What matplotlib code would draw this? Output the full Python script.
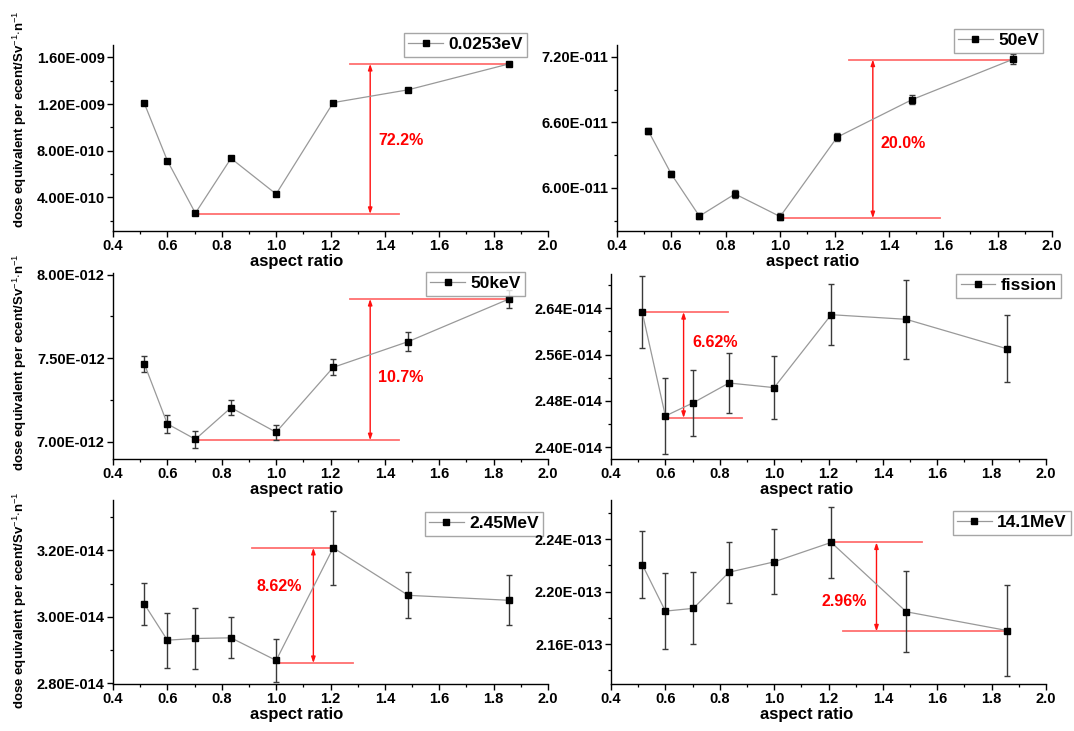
import matplotlib
matplotlib.use("Agg")
import matplotlib.pyplot as plt
from matplotlib.ticker import FuncFormatter, MultipleLocator

plt.rcParams["font.family"] = ["Liberation Sans", "DejaVu Sans"]
plt.rcParams["mathtext.fontset"] = "custom"
plt.rcParams["mathtext.rm"] = "Liberation Sans"
plt.rcParams["mathtext.bf"] = "Liberation Sans:bold"

# ---------------- data ----------------
ratio = [0.515, 0.6, 0.703, 0.834, 1.0, 1.21, 1.486, 1.857]

dose_0025eV = [1.208e-9, 0.715e-9, 0.265e-9, 0.735e-9, 0.429e-9, 1.213e-9, 1.323e-9, 1.545e-9]
err_0025eV = [0.0] * 8

dose_50eV = [6.523e-11, 6.126e-11, 5.742e-11, 5.945e-11, 5.738e-11, 6.465e-11, 6.809e-11, 7.178e-11]
err_50eV = [0.03e-11, 0.03e-11, 0.03e-11, 0.035e-11, 0.035e-11, 0.035e-11, 0.04e-11, 0.045e-11]

dose_50keV = [7.468e-12, 7.108e-12, 7.016e-12, 7.205e-12, 7.058e-12, 7.446e-12, 7.600e-12, 7.855e-12]
err_50keV = [0.048e-12, 0.056e-12, 0.052e-12, 0.046e-12, 0.044e-12, 0.048e-12, 0.056e-12, 0.056e-12]

dose_fission = [2.633e-14, 2.454e-14, 2.477e-14, 2.511e-14, 2.503e-14, 2.629e-14, 2.621e-14, 2.570e-14]
err_fission = [0.062e-14, 0.065e-14, 0.057e-14, 0.051e-14, 0.055e-14, 0.053e-14, 0.068e-14, 0.058e-14]

dose_245MeV = [3.039e-14, 2.930e-14, 2.935e-14, 2.937e-14, 2.869e-14, 3.208e-14, 3.065e-14, 3.050e-14]
err_245MeV = [0.064e-14, 0.083e-14, 0.093e-14, 0.062e-14, 0.065e-14, 0.112e-14, 0.069e-14, 0.075e-14]

dose_141MeV = [2.2206e-13, 2.1852e-13, 2.1873e-13, 2.2148e-13, 2.2227e-13, 2.2375e-13, 2.1847e-13, 2.1704e-13]
err_141MeV = [0.0257e-13, 0.0292e-13, 0.0273e-13, 0.0232e-13, 0.0248e-13, 0.0268e-13, 0.0308e-13, 0.0343e-13]

labels = ["0.0253eV", "50eV", "50keV", "fission", "2.45MeV", "14.1MeV"]
percents = ["72.2%", "20.0%", "10.7%", "6.62%", "8.62%", "2.96%"]

# ---------------- layout (pixels) ----------------
W, H = 1074, 731
fig = plt.figure(figsize=(W / 100, H / 100), dpi=100)
fig.patch.set_facecolor("white")

panels = [
    dict(x=dose_0025eV, e=err_0025eV, rect=(113, 548, 45, 231), ylim=(0.112e-9, 1.707e-9),
         major=0.4e-9, leg=(527, 33), xl=0.423,
         ann=(1.545e-9, 1.272, 1.857, 0.258e-9, 0.703, 1.452, 1.346, 1.375, 0.89e-9)),
    dict(x=dose_50eV, e=err_50eV, rect=(617, 1052, 45, 231), ylim=(5.606e-11, 7.308e-11),
         major=0.6e-11, leg=(1043, 29), xl=0.45,
         ann=(7.175e-11, 1.254, 1.85, 5.723e-11, 1.0, 1.5875, 1.341, 1.369, 6.406e-11)),
    dict(x=dose_50keV, e=err_50keV, rect=(113, 548, 273, 459), ylim=(6.898e-12, 8.01e-12),
         major=0.5e-12, leg=(525, 272), xl=0.423,
         ann=(7.855e-12, 1.272, 1.857, 7.01e-12, 0.703, 1.452, 1.346, 1.376, 7.386e-12)),
    dict(x=dose_fission, e=err_fission, rect=(611, 1046, 274, 459), ylim=(2.3797e-14, 2.6993e-14),
         major=0.08e-14, leg=(1061, 274), xl=0.45,
         ann=(2.6336e-14, 0.515, 0.832, 2.4506e-14, 0.6, 0.882, 0.667, 0.698, 2.581e-14)),
    dict(x=dose_245MeV, e=err_245MeV, rect=(113, 548, 500, 684), ylim=(2.798e-14, 3.352e-14),
         major=0.2e-14, leg=(543, 512), xl=0.423,
         ann=(3.208e-14, 0.912, 1.222, 2.861e-14, 1.0, 1.281, 1.137, 0.927, 3.093e-14)),
    dict(x=dose_141MeV, e=err_141MeV, rect=(611, 1046, 500, 684), ylim=(2.1297e-13, 2.2698e-13),
         major=0.04e-13, leg=(1071, 511), xl=0.45,
         ann=(2.2375e-13, 1.21, 1.543, 2.1697e-13, 1.255, 1.857, 1.3765, 1.174, 2.1926e-13)),
]


def sci_fmt(v, pos):
    if v == 0:
        return "0"
    mant, ex = f"{v:.2E}".split("E")
    ex = int(ex)
    return f"{mant}E{'-' if ex < 0 else '+'}{abs(ex):03d}"


LINE_RED = "#FF7070"
ARROW_RED = "#FF1010"

for i, p in enumerate(panels):
    l, r, t, b = p["rect"]
    ax = fig.add_axes([l / W, 1 - b / H, (r - l) / W, (b - t) / H])
    ax.errorbar(ratio, p["x"], yerr=p["e"], fmt="none", ecolor="#3a3a3a",
                elinewidth=1.0, capsize=2.5, capthick=1.0, zorder=3)
    ax.plot(ratio, p["x"], "-s", color="#999999", lw=0.9, mfc="black", mec="black",
            ms=4.5, label=labels[i], zorder=4)
    ax.set_xlim(0.4, 2.0)
    ax.set_ylim(*p["ylim"])
    ax.xaxis.set_major_locator(MultipleLocator(0.2))
    ax.xaxis.set_minor_locator(MultipleLocator(0.1))
    ax.yaxis.set_major_locator(MultipleLocator(p["major"]))
    ax.yaxis.set_minor_locator(MultipleLocator(p["major"] / 2))
    ax.yaxis.set_major_formatter(FuncFormatter(sci_fmt))
    ax.xaxis.set_major_formatter(FuncFormatter(lambda v, pos: f"{v:.1f}"))
    for s in ("top", "right"):
        ax.spines[s].set_visible(False)
    for s in ("left", "bottom"):
        ax.spines[s].set_linewidth(1.0)
    ax.tick_params(which="major", direction="out", length=4.5, width=1.0, pad=1.5,
                   labelsize=10.5)
    ax.tick_params(which="minor", direction="out", length=2.5, width=0.9)
    for lab in ax.get_xticklabels() + ax.get_yticklabels():
        lab.set_fontweight("bold")

    ax.set_xlabel("aspect ratio", fontsize=12, fontweight="bold")
    ax.xaxis.set_label_coords(p["xl"], -0.125)

    # red min/max annotation
    ty, tx0, tx1, by, bx0, bx1, axx, txx, tyy = p["ann"]
    ax.plot([tx0, tx1], [ty, ty], color=LINE_RED, lw=1.3, zorder=2)
    ax.plot([bx0, bx1], [by, by], color=LINE_RED, lw=1.3, zorder=2)
    ax.annotate("", xy=(axx, ty), xytext=(axx, by),
                arrowprops=dict(arrowstyle="<|-|>,head_length=0.35,head_width=0.12",
                                color=ARROW_RED, lw=1.0, shrinkA=0, shrinkB=0))
    ax.text(txx, tyy, percents[i], color="#FF0000", fontsize=11.5, fontweight="bold",
            ha="left", va="center")

    lx, ly = p["leg"]
    leg = ax.legend(loc="upper right", bbox_to_anchor=(lx / W, 1 - ly / H),
                    bbox_transform=fig.transFigure, borderaxespad=0, frameon=True,
                    fancybox=False, handlelength=2.0, handletextpad=0.3,
                    borderpad=0.25, prop=dict(weight="bold", size=12.5))
    leg.get_frame().set_edgecolor("#909090")
    leg.get_frame().set_linewidth(1.0)

# shared y labels on the left column
ylab = "dose equivalent per ecent/Sv$^{-1}$$\\cdot$n$^{-1}$"
for yc in (119, 362, 600):
    fig.text(20 / W, 1 - yc / H, ylab, rotation=90, ha="center", va="center",
             fontsize=9.5, fontweight="bold")

fig.savefig("out.png", dpi=100, facecolor="white")
